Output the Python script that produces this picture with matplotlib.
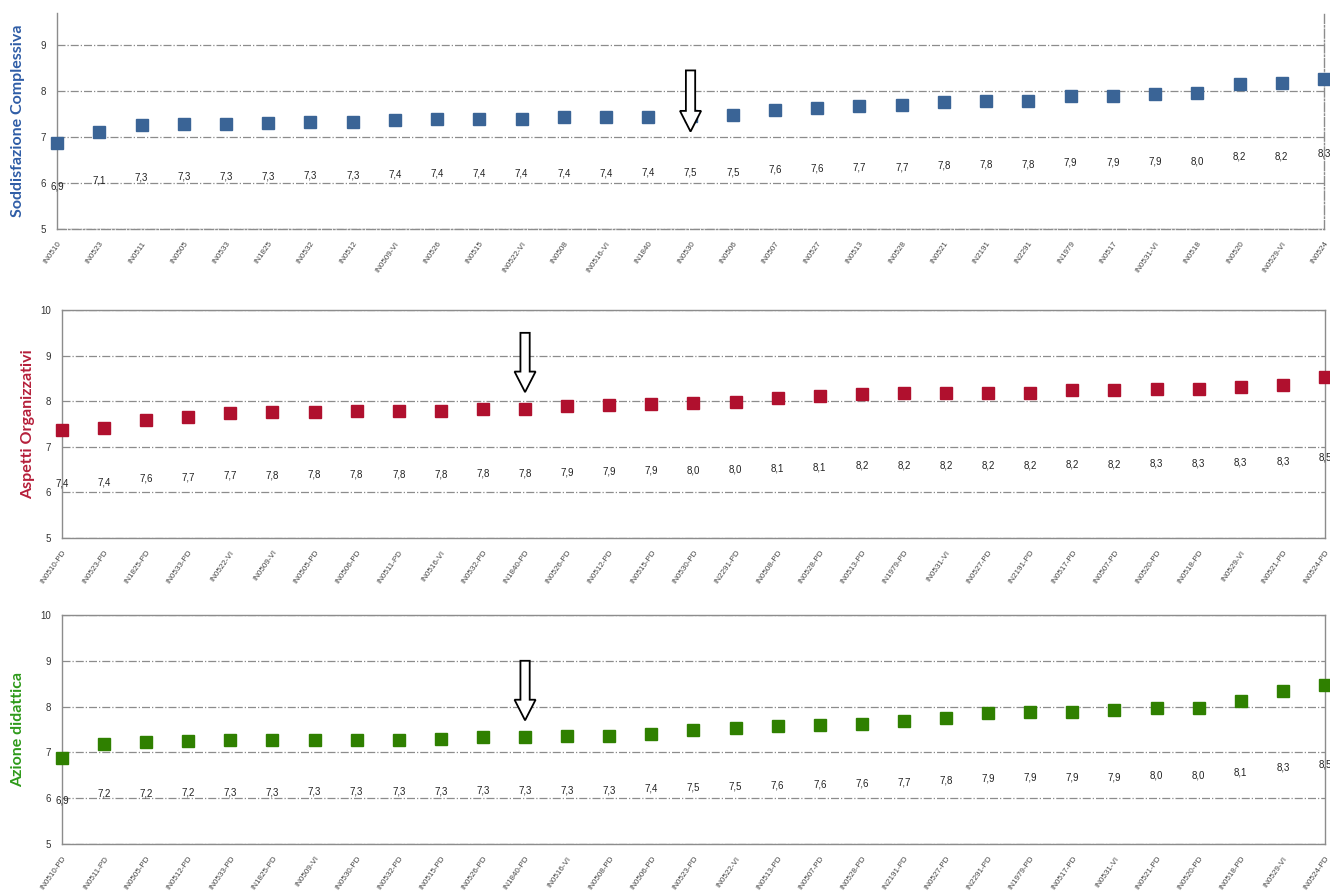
import matplotlib.pyplot as plt
from matplotlib.patches import FancyArrow

# --- data ---------------------------------------------------------------
cat_sodd = ['IN0510', 'IN0523', 'IN0511', 'IN0505', 'IN0533', 'IN1825', 'IN0532', 'IN0512',
            'IN0509-VI', 'IN0526', 'IN0515', 'IN0522-VI', 'IN0508', 'IN0516-VI', 'IN1840',
            'IN0530', 'IN0506', 'IN0507', 'IN0527', 'IN0513', 'IN0528', 'IN0521', 'IN2191',
            'IN2291', 'IN1979', 'IN0517', 'IN0531-VI', 'IN0518', 'IN0520', 'IN0529-VI', 'IN0524']
val_sodd = [6.87, 7.12, 7.26, 7.29, 7.29, 7.30, 7.33, 7.33, 7.38, 7.40, 7.40, 7.40, 7.43, 7.43,
            7.44, 7.46, 7.47, 7.58, 7.64, 7.67, 7.69, 7.77, 7.79, 7.79, 7.90, 7.90, 7.94, 7.96,
            8.16, 8.17, 8.27]

cat_org = ['IN0510-PD', 'IN0523-PD', 'IN1825-PD', 'IN0533-PD', 'IN0522-VI', 'IN0509-VI',
           'IN0505-PD', 'IN0506-PD', 'IN0511-PD', 'IN0516-VI', 'IN0532-PD', 'IN1840-PD',
           'IN0526-PD', 'IN0512-PD', 'IN0515-PD', 'IN0530-PD', 'IN2291-PD', 'IN0508-PD',
           'IN0528-PD', 'IN0513-PD', 'IN1979-PD', 'IN0531-VI', 'IN0527-PD', 'IN2191-PD',
           'IN0517-PD', 'IN0507-PD', 'IN0520-PD', 'IN0518-PD', 'IN0529-VI', 'IN0521-PD', 'IN0524-PD']
val_org = [7.37, 7.42, 7.59, 7.66, 7.74, 7.76, 7.77, 7.79, 7.79, 7.79, 7.83, 7.84, 7.89, 7.91,
           7.94, 7.96, 7.99, 8.06, 8.11, 8.16, 8.17, 8.17, 8.17, 8.18, 8.24, 8.24, 8.26, 8.26,
           8.31, 8.35, 8.53]

cat_did = ['IN0510-PD', 'IN0511-PD', 'IN0505-PD', 'IN0512-PD', 'IN0533-PD', 'IN1825-PD',
           'IN0509-VI', 'IN0530-PD', 'IN0532-PD', 'IN0515-PD', 'IN0526-PD', 'IN1840-PD',
           'IN0516-VI', 'IN0508-PD', 'IN0506-PD', 'IN0523-PD', 'IN0522-VI', 'IN0513-PD',
           'IN0507-PD', 'IN0528-PD', 'IN2191-PD', 'IN0527-PD', 'IN2291-PD', 'IN1979-PD',
           'IN0517-PD', 'IN0531-VI', 'IN0521-PD', 'IN0520-PD', 'IN0518-PD', 'IN0529-VI', 'IN0524-PD']
val_did = [6.88, 7.19, 7.22, 7.24, 7.26, 7.26, 7.28, 7.28, 7.28, 7.30, 7.33, 7.33, 7.35, 7.35,
           7.41, 7.48, 7.53, 7.57, 7.60, 7.63, 7.69, 7.76, 7.87, 7.89, 7.89, 7.92, 7.98, 7.98,
           8.13, 8.34, 8.48]

# panel settings: categories, values, title, colours, highlighted index, arrow top/tip
panels = [
    (cat_sodd, val_sodd, 'Soddisfazione Complessiva', '#3A6496', '#2F5DA6', 15, 8.45, 7.12),
    (cat_org, val_org, 'Aspetti Organizzativi', '#B0102E', '#B51F3A', 11, 9.5, 8.2),
    (cat_did, val_did, 'Azione didattica', '#2F8000', '#2E9A1A', 11, 9.0, 7.7),
]
rects = [
    [0.0429, 0.7438, 0.9526, 0.2417],
    [0.0466, 0.3982, 0.9496, 0.2550],
    [0.0466, 0.0559, 0.9496, 0.2562],
]
ytops = [9.7, 10, 10]
title_x = [-0.025, -0.021, -0.029]

plt.rcParams['font.family'] = ['Liberation Sans', 'DejaVu Sans']
fig = plt.figure(figsize=(13.3, 8.94), dpi=100)
grid_col = '#8C8C8C'

for (cats, vals, title, col, tcol, hi, a_top, a_tip), rect, ytop, tx in zip(panels, rects, ytops, title_x):
    ax = fig.add_axes(rect)
    x = list(range(len(cats)))
    ax.set_xlim(0, len(cats) - 1)
    ax.set_ylim(5, ytop)
    ax.set_yticks([5, 6, 7, 8, 9] + ([10] if ytop >= 10 else []))
    ax.yaxis.grid(True, color=grid_col, linestyle='-.', linewidth=0.9)
    ax.set_axisbelow(True)

    ax.plot(x, vals, 's', color=col, markersize=8.5, clip_on=False, zorder=3)

    # data labels sit lower than the markers, as in the original chart
    for xi, v in zip(x, vals):
        ax.text(xi, 0.5 * v + 2.5, f'{v:.1f}'.replace('.', ','), ha='center', va='center',
                fontsize=7, color='#222222', zorder=4)

    ax.set_xticks(x)
    ax.set_xticklabels(cats, rotation=55, ha='right', rotation_mode='anchor',
                       fontsize=5.8, color='#444444')
    ax.tick_params(axis='x', length=0, pad=8)
    ax.tick_params(axis='y', length=0, pad=8, labelsize=7, labelcolor='#333333')

    for s in ax.spines.values():
        s.set_color(grid_col)
        s.set_linewidth(1.0)
    if ytop < 10:
        ax.spines['top'].set_visible(False)
        ax.spines['right'].set_linestyle('-.')
        ax.spines['bottom'].set_linestyle('-.')

    ax.set_ylabel(title, color=tcol, fontsize=11.5, fontweight='bold',
                  family=['Lato', 'DejaVu Sans'])
    ax.yaxis.set_label_coords(tx, 0.5)

    ax.add_patch(FancyArrow(hi, a_top, 0, a_tip - a_top, width=0.22, head_width=0.5,
                            head_length=0.45, length_includes_head=True,
                            facecolor='white', edgecolor='black', linewidth=1.3,
                            zorder=5, clip_on=False))

fig.savefig('out.png', dpi=100)
